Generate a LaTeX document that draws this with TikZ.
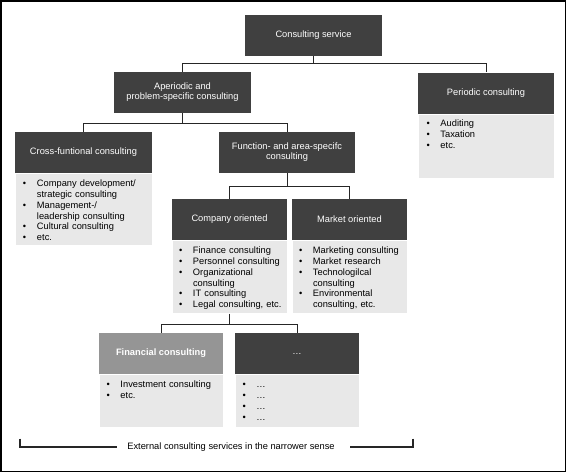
\documentclass[tikz,border=0pt]{standalone}
\usepackage{fontspec}
\setmainfont{Liberation Sans}
\definecolor{hdrgray}{HTML}{404040}
\definecolor{bodgray}{HTML}{E8E8E8}
\definecolor{fingray}{HTML}{959595}
\definecolor{linegray}{HTML}{262626}
\newcommand{\bulit}[1]{\par\noindent\hangindent=14pt\hangafter=1\makebox[14pt][l]{\rule{0pt}{7pt}\textbullet}#1\par}
\begin{document}
\begin{tikzpicture}[x=1pt,y=-1pt,
  hdr/.style={fill=hdrgray, text=white, inner sep=0, minimum height=41, align=center,
    font=\fontsize{9.3}{10}\selectfont},
  bod/.style={fill=bodgray, draw=white, line width=0.6pt, inner sep=0, anchor=north},
  btxt/.style={anchor=north west, inner sep=0, text width=#1, font=\fontsize{9.3}{10.9}\selectfont},
  conn/.style={draw=linegray, line width=0.9pt},
  brk/.style={draw=linegray, line width=1.3pt},
]
\fill[white] (0,0) rectangle (566,472);
\useasboundingbox (0,0) rectangle (566,472);

% headers
\node[hdr, minimum width=137] (cs) at (313.5,35.5) {Consulting service};
\node[hdr, minimum width=137] (ap) at (182.5,92.5) {Aperiodic and\\problem-specific consulting};
\node[hdr, minimum width=136] (pc) at (486,93) {Periodic consulting};
\node[hdr, minimum width=137] (cf) at (83.5,152.5) {Cross-funtional consulting};
\node[hdr, minimum width=136] (fa) at (287,152.5) {Function- and area-specifc\\consulting};
\node[hdr, minimum width=115] (co) at (229.5,219.5) {Company oriented};
\node[hdr, minimum width=115] (mo) at (349.5,219.5) {Market oriented};
\node[hdr, minimum width=124, fill=fingray] (fc) at (161,353.5) {\textbf{Financial consulting}};
\node[hdr, minimum width=124] (dd) at (297,353.5) {…};

% bodies
\node[bod, minimum width=136, minimum height=64] (pcb) at (pc.south) {};
\node[bod, minimum width=137, minimum height=72] (cfb) at (cf.south) {};
\node[bod, minimum width=115, minimum height=73] (cob) at (co.south) {};
\node[bod, minimum width=115, minimum height=73] (mob) at (mo.south) {};
\node[bod, minimum width=124, minimum height=53] (fcb) at (fc.south) {};
\node[bod, minimum width=124, minimum height=53] (ddb) at (dd.south) {};

% body texts
\node[btxt=125] (pct) at ([xshift=8.5pt,yshift=-2pt]pc.south west)
  {\bulit{Auditing}\bulit{Taxation}\bulit{etc.}};
\node[btxt=128] (cft) at ([xshift=8pt,yshift=-2pt]cf.south west)
  {\bulit{Company development/\newline strategic consulting}\bulit{Management-/\newline leadership consulting}\bulit{Cultural consulting}\bulit{etc.}};
\node[btxt=112] (cot) at ([xshift=7pt,yshift=-2pt]co.south west)
  {\bulit{Finance consulting}\bulit{Personnel consulting}\bulit{Organizational\newline consulting}\bulit{IT consulting}\bulit{Legal consulting, etc.}};
\node[btxt=112] (mot) at ([xshift=7pt,yshift=-2pt]mo.south west)
  {\bulit{Marketing consulting}\bulit{Market research}\bulit{Technologilcal\newline consulting}\bulit{Environmental\newline consulting, etc.}};
\node[btxt=118] (fct) at ([xshift=7.5pt,yshift=-2pt]fc.south west)
  {\bulit{Investment consulting}\bulit{etc.}};
\node[btxt=118] (ddt) at ([xshift=7.5pt,yshift=-2pt]dd.south west)
  {\bulit{…}\bulit{…}\bulit{…}\bulit{…}};

% connectors
\draw[conn] (cs.south) -- (cs.south |- 0,63) -| (ap.north);
\draw[conn] (cs.south) -- (cs.south |- 0,63) -| (pc.north);
\draw[conn] (ap.south) -- (ap.south |- 0,123) -| (cf.north);
\draw[conn] (ap.south) -- (ap.south |- 0,123) -| (fa.north);
\draw[conn] (fa.south) -- (fa.south |- 0,186) -| (co.north);
\draw[conn] (fa.south) -- (fa.south |- 0,186) -| (mo.north);
\draw[conn] (cob.south) -- (cob.south |- 0,324) -| (fc.north);
\draw[conn] (cob.south) -- (cob.south |- 0,324) -| (dd.north);

% bracket
\node[inner sep=0, font=\fontsize{9.3}{10}\selectfont] (ext) at (231,447) {External consulting services in the narrower sense};
\coordinate (bl) at (20,438.5);
\coordinate (br) at (413,438.5);
\draw[brk] (bl) |- ([xshift=-10pt]ext.west);
\draw[brk] (br) |- ([xshift=15pt]ext.east);

% frame
\draw[black, line width=1.5pt] (0.75,0.75) rectangle (565.25,471.25);
\end{tikzpicture}
\end{document}
